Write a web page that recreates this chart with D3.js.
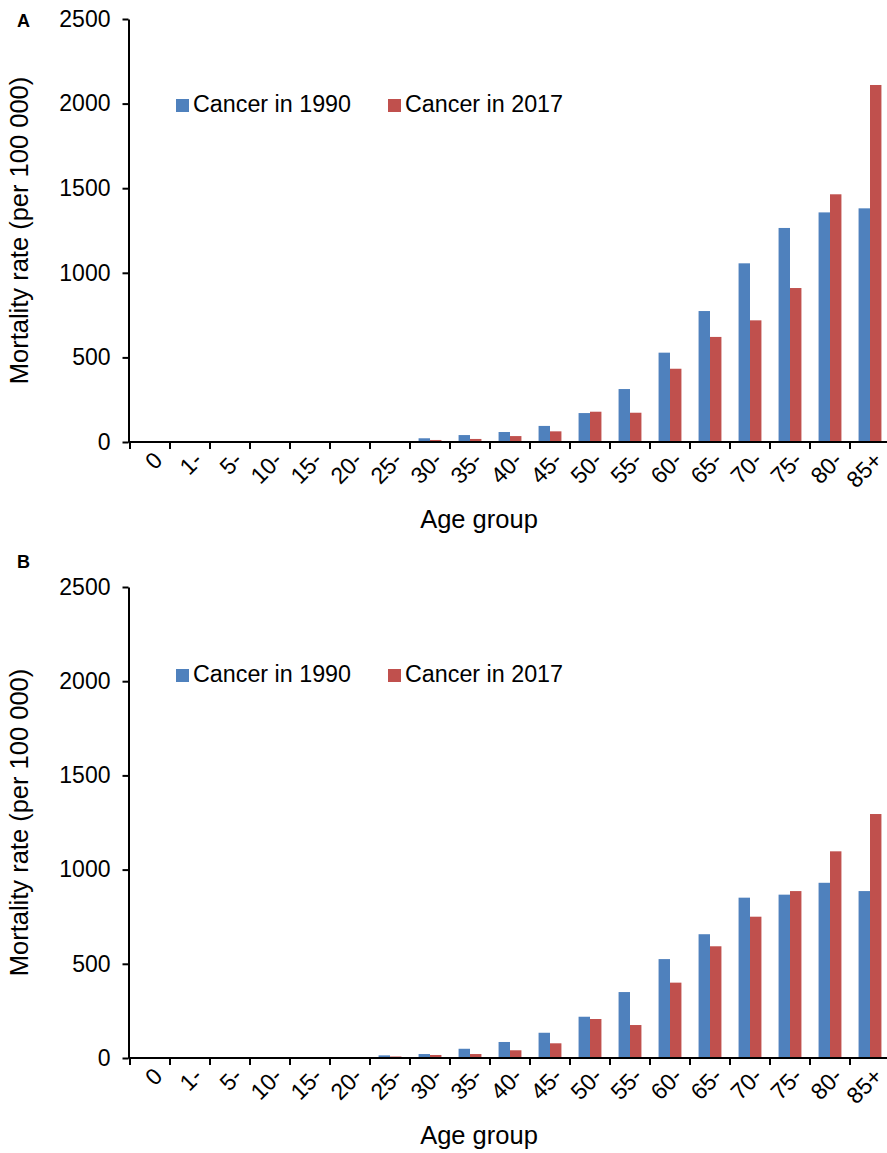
<!DOCTYPE html>
<html>
<head>
<meta charset="utf-8">
<script src="https://cdn.jsdelivr.net/npm/d3@7"></script>
<style>
  body { margin: 0; background: #fff; }
  text { font-family: "Liberation Sans", Arial, sans-serif; fill: #000; }
</style>
</head>
<body>
<div class="main"></div>
<script>
// age groups on the x axis
const ageGroups = ["0", "1-", "5-", "10-", "15-", "20-", "25-", "30-", "35-", "40-",
  "45-", "50-", "55-", "60-", "65-", "70-", "75-", "80-", "85+"]
const seriesNames = ["Cancer in 1990", "Cancer in 2017"]
const yTicks = [0, 500, 1000, 1500, 2000, 2500]

// panel A
const panelA1990 = [1, 0.5, 0.5, 0.5, 1, 2, 6, 22, 41, 59, 95, 171, 313, 528, 774, 1056, 1265, 1357, 1381]
const panelA2017 = [0.5, 0.3, 0.3, 0.5, 0.5, 1, 3, 12, 18, 35, 63, 179, 173, 433, 621, 719, 910, 1464, 2110]
// panel B
const panelB1990 = [2, 0.5, 0.5, 0.5, 1, 5, 14, 21, 49, 85, 134, 219, 350, 525, 657, 851, 867, 930, 886]
const panelB2017 = [1, 0.3, 0.3, 0.5, 0.5, 2, 8, 16, 21, 41, 78, 207, 175, 400, 593, 750, 886, 1097, 1295]

const colors = ["#4f81bd", "#c0504d"]
const width = 887
const height = 1153

const svg = d3.select(".main").append("svg")
  .attr("width", width)
  .attr("height", height)

function drawPanel(letter, s1990, s2017, top, bottom, letterY, legendY) {
  const left = 128.5
  const g = svg.append("g")

  const x = d3.scaleBand()
    .domain(ageGroups)
    .range([130, 130 + ageGroups.length * 40])
    .padding(0)

  const x1 = d3.scaleBand()
    .domain([0, 1])
    .range([0, x.bandwidth()])
    .paddingInner(0)
    .paddingOuter(0.75)

  const y = d3.scaleLinear()
    .domain([0, 2500])
    .range([bottom, top])

  const rows = ageGroups.map((a, i) => ({ age: a, values: [s1990[i], s2017[i]] }))

  // bars
  g.append("g")
    .selectAll("g")
    .data(rows)
    .join("g")
      .attr("transform", d => `translate(${x(d.age)},0)`)
    .selectAll("rect")
    .data(d => d.values.map((v, k) => ({ k, v })))
    .join("rect")
      .attr("x", d => x1(d.k))
      .attr("width", x1.bandwidth())
      .attr("y", d => y(d.v))
      .attr("height", d => y(0) - y(d.v))
      .attr("fill", d => colors[d.k])

  // y axis
  const yAxis = g.append("g")
    .attr("transform", `translate(${left},0)`)
    .call(d3.axisLeft(y).tickValues(yTicks).tickFormat(d3.format("d"))
      .tickSize(6).tickSizeOuter(0).tickPadding(12))
  yAxis.select(".domain").attr("stroke", "#000").attr("stroke-width", 2)
  yAxis.selectAll(".tick line").attr("stroke", "#000").attr("stroke-width", 2)
  yAxis.selectAll(".tick text")
    .attr("font-size", 23)
    .attr("font-family", "Liberation Sans, Arial, sans-serif")

  // x axis
  const xAxis = g.append("g")
    .attr("transform", `translate(0,${bottom})`)
    .call(d3.axisBottom(x).tickSize(0).tickSizeOuter(0).tickPadding(0))
  xAxis.select(".domain").attr("stroke", "#000").attr("stroke-width", 2)
    .attr("d", `M${left},0H${width + 10}`)
  xAxis.selectAll(".tick text")
    .attr("font-size", 23)
    .attr("font-family", "Liberation Sans, Arial, sans-serif")
    .attr("text-anchor", "end")
    .attr("dy", "0.35em")
    .attr("transform", "translate(8,14) rotate(-45)")

  // tick marks sit on the band edges
  g.append("g")
    .selectAll("line")
    .data(ageGroups)
    .join("line")
      .attr("x1", d => x(d))
      .attr("x2", d => x(d))
      .attr("y1", bottom)
      .attr("y2", bottom + 7)
      .attr("stroke", "#000")
      .attr("stroke-width", 2)

  // axis titles
  g.append("text")
    .text("Age group")
    .attr("x", 479)
    .attr("y", bottom + 86)
    .attr("text-anchor", "middle")
    .attr("font-size", 25.5)

  g.append("text")
    .text("Mortality rate (per 100 000)")
    .attr("transform", `translate(28,${(top + bottom) / 2}) rotate(-90)`)
    .attr("text-anchor", "middle")
    .attr("font-size", 25.5)

  g.append("text")
    .text(letter)
    .attr("x", 17)
    .attr("y", letterY)
    .attr("font-size", 18)
    .attr("font-weight", "bold")

  // legend
  const legendX = [176, 388]
  const legend = g.append("g")
    .selectAll("g")
    .data(seriesNames)
    .join("g")
      .attr("transform", (d, i) => `translate(${legendX[i]},${legendY})`)
  legend.append("rect")
    .attr("width", 13)
    .attr("height", 13)
    .attr("y", -13)
    .attr("fill", (d, i) => colors[i])
  legend.append("text")
    .text(d => d)
    .attr("x", 17)
    .attr("y", 0)
    .attr("font-size", 23.3)
}

drawPanel("A", panelA1990, panelA2017, 19, 442, 27, 112)
drawPanel("B", panelB1990, panelB2017, 587, 1058, 568, 682)
</script>
</body>
</html>
